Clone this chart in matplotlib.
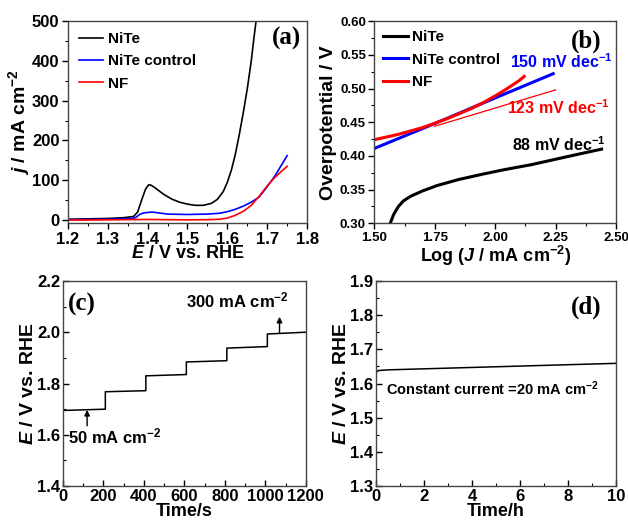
import matplotlib
matplotlib.use("Agg")
import matplotlib.pyplot as plt
from matplotlib.ticker import MultipleLocator
from matplotlib.font_manager import FontProperties

plt.rcParams['font.family'] = ['Liberation Sans', 'DejaVu Sans']
plt.rcParams['font.weight'] = 'bold'
plt.rcParams['axes.labelweight'] = 'bold'
plt.rcParams['mathtext.fontset'] = 'custom'
plt.rcParams['mathtext.rm'] = 'Liberation Sans:bold'
plt.rcParams['mathtext.bf'] = 'Liberation Sans:bold'
plt.rcParams['mathtext.it'] = 'Liberation Sans:italic:bold'
plt.rcParams['mathtext.default'] = 'bf'

# (a) polarization curves
e_nite = [1.20, 1.25, 1.30, 1.34, 1.365, 1.375, 1.385, 1.395, 1.403, 1.41, 1.42, 1.44,
          1.46, 1.48, 1.50, 1.52, 1.54, 1.56, 1.575, 1.59, 1.60, 1.61, 1.62, 1.63,
          1.64, 1.65, 1.66, 1.667, 1.672, 1.68]
j_nite = [2, 3, 4, 6, 9, 20, 50, 78, 89, 87, 80, 65,
          53, 45, 40, 37, 37, 42, 52, 72, 95, 125, 165, 215,
          270, 330, 400, 460, 500, 560]
e_ctrl = [1.20, 1.30, 1.36, 1.37, 1.38, 1.39, 1.41, 1.42, 1.45, 1.50, 1.55, 1.58,
          1.60, 1.62, 1.64, 1.66, 1.68, 1.70, 1.72, 1.735, 1.75]
j_ctrl = [1, 2, 4, 6, 14, 18, 20, 19, 15, 14, 15, 17,
          21, 27, 35, 45, 58, 84, 112, 137, 162]
e_nf = [1.20, 1.30, 1.40, 1.45, 1.50, 1.55, 1.58, 1.60, 1.62, 1.64, 1.66, 1.68,
        1.70, 1.72, 1.735, 1.75]
j_nf = [0, 0.5, 1.5, 1, 0.5, 1, 2, 5, 12, 22, 37, 60,
        86, 108, 122, 135]
ticks_a_x = [1.2, 1.3, 1.4, 1.5, 1.6, 1.7, 1.8]
ticks_a_y = [0, 100, 200, 300, 400, 500]

# (b) Tafel plots
logj_nite = [1.566, 1.58, 1.60, 1.62, 1.65, 1.70, 1.76, 1.85, 1.95, 2.03, 2.15, 2.25, 2.35, 2.44]
eta_nite = [0.300, 0.313, 0.325, 0.333, 0.340, 0.348, 0.356, 0.365, 0.373, 0.379, 0.387, 0.395, 0.403, 0.410]
logj_ctrl = [1.50, 1.75, 2.00, 2.24]
eta_ctrl = [0.411, 0.448, 0.486, 0.522]
logj_nf = [1.50, 1.60, 1.70, 1.80, 1.90, 1.95, 2.00, 2.05, 2.10, 2.12]
eta_nf = [0.424, 0.432, 0.442, 0.455, 0.470, 0.479, 0.489, 0.500, 0.512, 0.518]
logj_nf_fit = [1.75, 2.25]
eta_nf_fit = [0.444, 0.498]
ticks_b_x = [1.50, 1.75, 2.00, 2.25, 2.50]
ticks_b_y = [0.30, 0.35, 0.40, 0.45, 0.50, 0.55, 0.60]

# (c) multi-step chronopotentiometry
step_t = [0, 210, 410, 610, 810, 1010, 1200]
step_e_start = [1.695, 1.768, 1.830, 1.884, 1.938, 1.993]
step_e_end = [1.700, 1.772, 1.835, 1.889, 1.944, 2.000]
ticks_c_x = [0, 200, 400, 600, 800, 1000, 1200]
ticks_c_y = [1.4, 1.6, 1.8, 2.0, 2.2]

# (d) stability
t_h = [0, 0.1, 0.5, 1, 2, 4, 6, 8, 10]
e_stab = [1.633, 1.638, 1.640, 1.641, 1.643, 1.647, 1.651, 1.655, 1.659]
ticks_d_x = [0, 2, 4, 6, 8, 10]
ticks_d_y = [1.3, 1.4, 1.5, 1.6, 1.7, 1.8, 1.9]

fig = plt.figure(figsize=(6.28, 5.29), dpi=100)
ax_a = fig.add_axes([0.108, 0.578, 0.381, 0.382])
ax_b = fig.add_axes([0.596, 0.578, 0.385, 0.382])
ax_c = fig.add_axes([0.100, 0.081, 0.387, 0.388])
ax_d = fig.add_axes([0.599, 0.081, 0.382, 0.388])

xlabel_fs = 13
ylabel_fs = 14
txt_fs = 11.5


def style(ax, direction, xt, yt, xfmt, yfmt, xminor, yminor, labelsize=12):
    for s in ax.spines.values():
        s.set_linewidth(1.0)
        s.set_color('#444444')
    fp = FontProperties(family='Liberation Sans', weight='bold', size=labelsize)
    ax.set_xticks(xt, [xfmt.format(v) for v in xt], fontproperties=fp)
    ax.set_yticks(yt, [yfmt.format(v) for v in yt], fontproperties=fp)
    ax.xaxis.set_minor_locator(MultipleLocator(xminor))
    ax.yaxis.set_minor_locator(MultipleLocator(yminor))
    ax.tick_params(which='both', direction=direction)
    ax.tick_params(which='major', length=4, width=1, pad=2)
    ax.tick_params(which='minor', length=2.5, width=0.8)


def panel_label(ax, txt, x, y, ha):
    ax.text(x, y, txt, transform=ax.transAxes, ha=ha, va='top', fontsize=18,
            fontweight='bold', family='Liberation Serif')


# (a)
ax_a.plot(e_nite, j_nite, color='black', lw=1.2, label='NiTe')
ax_a.plot(e_ctrl, j_ctrl, color='blue', lw=1.2, label='NiTe control')
ax_a.plot(e_nf, j_nf, color='red', lw=1.2, label='NF')
style(ax_a, 'out', ticks_a_x, ticks_a_y, '{:.1f}', '{:.0f}', 0.05, 50)
ax_a.set_xlim(1.2, 1.8)
ax_a.set_ylim(-8, 500)
ax_a.set_xlabel(r'$\it{E}$ / V vs. RHE', fontsize=xlabel_fs, labelpad=-1)
ax_a.set_ylabel(r'$\it{j}$ / mA cm$^{-2}$', fontsize=ylabel_fs, labelpad=0)
ax_a.legend(loc='upper left', frameon=False, handlelength=1.6,
            handletextpad=0.3, labelspacing=0.55, borderaxespad=0.3,
            prop={'weight': 'bold', 'size': 11})
panel_label(ax_a, '(a)', 0.975, 0.97, 'right')

# (b)
ax_b.plot(logj_nite, eta_nite, color='black', lw=2.2, label='NiTe')
ax_b.plot(logj_ctrl, eta_ctrl, color='blue', lw=2.2, label='NiTe control')
ax_b.plot(logj_nf, eta_nf, color='red', lw=2.2, label='NF')
ax_b.plot(logj_nf_fit, eta_nf_fit, color='red', lw=0.9)
style(ax_b, 'out', ticks_b_x, ticks_b_y, '{:.2f}', '{:.2f}', 0.125, 0.025, labelsize=9.5)
ax_b.set_xlim(1.5, 2.5)
ax_b.set_ylim(0.30, 0.60)
ax_b.set_xlabel(r'Log ($\it{J}$ / mA cm$^{-2}$)', fontsize=xlabel_fs, labelpad=0)
ax_b.set_ylabel('Overpotential / V', fontsize=ylabel_fs, labelpad=2)
ax_b.legend(loc='upper left', frameon=False, handlelength=1.6,
            handletextpad=0.3, labelspacing=0.55, borderaxespad=0.2,
            prop={'weight': 'bold', 'size': 11})
ax_b.text(2.06, 0.530, r'150 mV dec$^{-1}$', color='blue', fontsize=txt_fs)
ax_b.text(2.05, 0.462, r'123 mV dec$^{-1}$', color='red', fontsize=txt_fs)
ax_b.text(2.07, 0.407, r'88 mV dec$^{-1}$', color='black', fontsize=txt_fs)
panel_label(ax_b, '(b)', 0.94, 0.96, 'right')

# (c)
t_line, e_line = [], []
for i in range(len(step_e_start)):
    t_line += [step_t[i], step_t[i + 1]]
    e_line += [step_e_start[i], step_e_end[i]]
ax_c.plot(t_line, e_line, color='black', lw=1.1)
style(ax_c, 'in', ticks_c_x, ticks_c_y, '{:.0f}', '{:.1f}', 100, 0.1)
ax_c.set_xlim(0, 1200)
ax_c.set_ylim(1.4, 2.2)
ax_c.set_xlabel('Time/s', fontsize=xlabel_fs, labelpad=-1)
ax_c.set_ylabel(r'$\it{E}$ / V vs. RHE', fontsize=ylabel_fs, labelpad=0)
arrow = dict(arrowstyle='-|>', lw=1, color='black', mutation_scale=8, shrinkA=0, shrinkB=0)
ax_c.annotate('', xy=(120, 1.697), xytext=(120, 1.635), arrowprops=arrow)
ax_c.annotate('', xy=(1070, 2.06), xytext=(1070, 1.997), arrowprops=arrow)
ax_c.text(28, 1.565, r'50 mA cm$^{-2}$', fontsize=12)
ax_c.text(610, 2.095, r'300 mA cm$^{-2}$', fontsize=12)
panel_label(ax_c, '(c)', 0.02, 0.94, 'left')

# (d)
ax_d.plot(t_h, e_stab, color='black', lw=1.1)
style(ax_d, 'in', ticks_d_x, ticks_d_y, '{:.0f}', '{:.1f}', 1, 0.05)
ax_d.set_xlim(0, 10)
ax_d.set_ylim(1.3, 1.9)
ax_d.set_xlabel('Time/h', fontsize=xlabel_fs, labelpad=-1)
ax_d.set_ylabel(r'$\it{E}$ / V vs. RHE', fontsize=ylabel_fs, labelpad=0)
ax_d.text(0.42, 1.565, r'Constant current =20 mA cm$^{-2}$', fontsize=10.5)
panel_label(ax_d, '(d)', 0.94, 0.93, 'right')

fig.savefig('out.png', dpi=100)
